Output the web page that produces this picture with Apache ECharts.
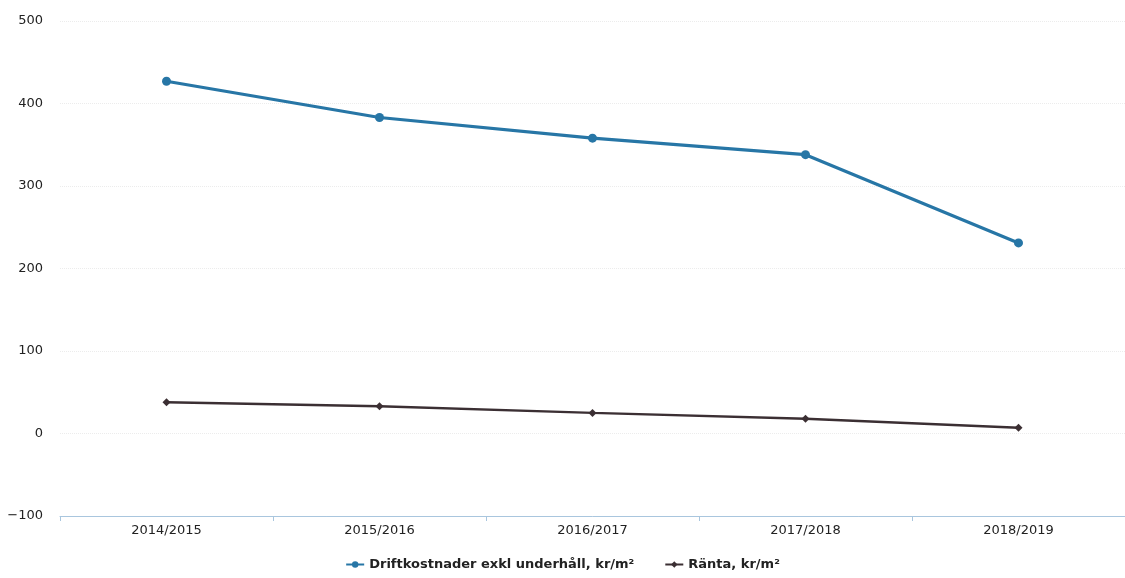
<!DOCTYPE html>
<html>
<head>
<meta charset="utf-8">
<script src="https://cdn.jsdelivr.net/npm/echarts@6/dist/echarts.min.js"></script>
<style>html,body{margin:0;padding:0;background:#fff;}#c{width:1125px;height:578px;}</style>
</head>
<body>
<div id="c"></div>
<script>
const categories = ['2014/2015', '2015/2016', '2016/2017', '2017/2018', '2018/2019'];
const drift = [427, 383, 358, 338, 231];
const ranta = [38, 33, 25, 18, 7];
const seriesNames = ['Driftkostnader exkl underhåll, kr/m²', 'Ränta, kr/m²'];

const chart = echarts.init(document.getElementById('c'));
chart.setOption({
  backgroundColor: '#ffffff',
  animation: false,
  grid: { left: 60, right: 0, top: 21, bottom: 62, containLabel: false },
  legend: {
    bottom: 2,
    left: 'center',
    itemWidth: 18,
    itemHeight: 8,
    itemGap: 30,
    textStyle: { fontFamily: 'DejaVu Sans', fontWeight: 'bold', fontSize: 13, color: '#222' },
    data: seriesNames
  },
  xAxis: {
    type: 'category',
    data: categories,
    boundaryGap: true,
    axisLine: { onZero: false, lineStyle: { color: '#a9c6de', width: 1 } },
    axisTick: { show: true, length: 5, lineStyle: { color: '#a9c6de' } },
    axisLabel: { fontFamily: 'DejaVu Sans', fontSize: 13, color: '#222', margin: 8 },
    splitLine: { show: false }
  },
  yAxis: {
    type: 'value',
    min: -100,
    max: 500,
    interval: 100,
    axisLine: { show: false },
    axisTick: { show: false },
    axisLabel: {
      fontFamily: 'DejaVu Sans', fontSize: 13, color: '#222', margin: 17,
      formatter: v => String(v).replace('-', '−')
    },
    splitLine: { show: true, lineStyle: { color: '#ececec', type: 'dotted', width: 1 } }
  },
  series: [
    {
      name: seriesNames[0],
      type: 'line',
      data: drift,
      symbol: 'circle',
      symbolSize: 9,
      itemStyle: { color: '#2776a6' },
      lineStyle: { color: '#2776a6', width: 3.2 }
    },
    {
      name: seriesNames[1],
      type: 'line',
      data: ranta,
      symbol: 'diamond',
      symbolSize: 8,
      itemStyle: { color: '#3b2f33' },
      lineStyle: { color: '#3b2f33', width: 2.5 }
    }
  ]
});
</script>
</body>
</html>
